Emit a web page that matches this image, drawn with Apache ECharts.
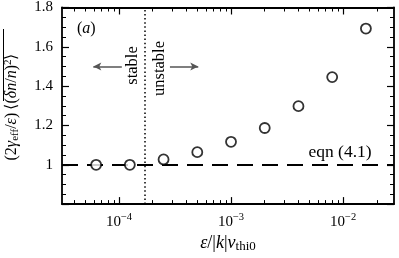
<!DOCTYPE html>
<html>
<head>
<meta charset="utf-8">
<script src="https://cdn.jsdelivr.net/npm/echarts@6/dist/echarts.min.js"></script>
<style>
html, body { margin: 0; padding: 0; background: #fff; }
#chart { width: 399px; height: 258px; }
</style>
</head>
<body>
<div id="chart"></div>
<script>
// eps / |k| v_thi0 and the normalised fluctuation level
var epsVals = [6.25e-5, 1.25e-4, 2.5e-4, 5e-4, 1e-3, 2e-3, 4e-3, 8e-3, 1.6e-2];
var ratioVals = [1.0, 1.0, 1.027, 1.064, 1.117, 1.187, 1.298, 1.446, 1.693];
var majorTicks = [1e-4, 1e-3, 1e-2];
var minorTicks = [4e-5, 5e-5, 6e-5, 7e-5, 8e-5, 9e-5,
    2e-4, 3e-4, 4e-4, 5e-4, 6e-4, 7e-4, 8e-4, 9e-4,
    2e-3, 3e-3, 4e-3, 5e-3, 6e-3, 7e-3, 8e-3, 9e-3, 2e-2];
var xMin = 3.1e-5, xMax = 2.85e-2;
var eqnLevel = 1.0;
var threshold = 1.7e-4;
var arrowY = 1.5;
var leftArrow = [1.06e-4, 5.9e-5];
var rightArrow = [2.85e-4, 5.1e-4];

var FONT = 'Liberation Serif';
var lg = function(v) { return Math.log10(v); };

var chart = echarts.init(document.getElementById('chart'));

var xBase = {
    type: 'value',
    gridIndex: 0,
    min: lg(xMin),
    max: lg(xMax),
    splitLine: { show: false }
};
var tickFmt = function(v) {
    var n = Math.round(v);
    return '{b|10}{s|' + (n < 0 ? '\u2212' : '') + Math.abs(n) + '}';
};

var xAxes = [
    Object.assign({}, xBase, {
        position: 'bottom',
        axisLine: { show: true, lineStyle: { color: '#000', width: 1.8 } },
        axisTick: { show: true, inside: true, length: 7, lineStyle: { color: '#000', width: 1.2 },
            customValues: majorTicks.map(lg) },
        axisLabel: { show: true, customValues: majorTicks.map(lg), formatter: tickFmt, margin: 8,
            rich: {
                b: { fontFamily: FONT, fontSize: 15, color: '#000' },
                s: { fontFamily: FONT, fontSize: 10.5, color: '#000', padding: [0, 0, 9, 0] }
            } },
        name: '{i|\u03b5}{n|/|}{i|k}{n||}{i|v}{sub|thi0}',
        nameLocation: 'middle',
        nameGap: 28,
        nameTextStyle: {
            rich: {
                i: { fontFamily: FONT, fontStyle: 'italic', fontSize: 18, color: '#000' },
                n: { fontFamily: FONT, fontSize: 18, color: '#000' },
                sub: { fontFamily: FONT, fontSize: 13, color: '#000', padding: [6, 0, 0, 0] }
            }
        }
    }),
    Object.assign({}, xBase, {
        position: 'top',
        axisLine: { show: true, lineStyle: { color: '#000', width: 1.8 } },
        axisTick: { show: true, inside: true, length: 7, lineStyle: { color: '#000', width: 1.2 },
            customValues: majorTicks.map(lg) },
        axisLabel: { show: false }
    }),
    Object.assign({}, xBase, {
        position: 'bottom',
        axisLine: { show: false },
        axisTick: { show: true, inside: true, length: 4, lineStyle: { color: '#000', width: 1 },
            customValues: minorTicks.map(lg) },
        axisLabel: { show: false }
    }),
    Object.assign({}, xBase, {
        position: 'top',
        axisLine: { show: false },
        axisTick: { show: true, inside: true, length: 4, lineStyle: { color: '#000', width: 1 },
            customValues: minorTicks.map(lg) },
        axisLabel: { show: false }
    })
];

var yBase = {
    type: 'value',
    min: 0.8,
    max: 1.8,
    interval: 0.2,
    splitLine: { show: false },
    axisLine: { show: true, lineStyle: { color: '#000', width: 1.8 } },
    axisTick: { show: true, inside: true, length: 7, lineStyle: { color: '#000', width: 1.2 } },
    minorTick: { show: true, splitNumber: 4, length: 4, lineStyle: { color: '#000', width: 1 } }
};

var option = {
    animation: false,
    backgroundColor: '#fff',
    grid: { left: 62, top: 7, right: 5, bottom: 49, containLabel: false },
    xAxis: xAxes,
    yAxis: [
        Object.assign({}, yBase, {
            position: 'left',
            axisLabel: {
                show: true, margin: 9, fontFamily: FONT, fontSize: 15, color: '#000',
                formatter: function(v) {
                    if (Math.abs(v - 0.8) < 1e-6) return '';
                    return Math.abs(v - 1) < 1e-6 ? '1' : v.toFixed(1);
                }
            }
        }),
        Object.assign({}, yBase, {
            position: 'right',
            axisLabel: { show: false }
        })
    ],
    series: [{
        type: 'scatter',
        xAxisIndex: 0,
        yAxisIndex: 0,
        symbol: 'circle',
        symbolSize: 10,
        itemStyle: { color: '#fff', borderColor: '#000', borderWidth: 1.8 },
        z: 5,
        data: epsVals.map(function(v, i) { return [lg(v), ratioVals[i]]; }),
        markLine: {
            silent: true,
            symbol: ['none', 'none'],
            label: { show: false },
            data: [
                [{ coord: [lg(xMin), eqnLevel], lineStyle: { color: '#000', width: 2, type: [16, 9] } },
                 { coord: [lg(xMax), eqnLevel] }],
                [{ coord: [lg(threshold), 0.8], lineStyle: { color: '#000', width: 1.5, type: [1.5, 2.6] } },
                 { coord: [lg(threshold), 1.8] }],
                [{ coord: [lg(leftArrow[0]), arrowY], symbol: 'none',
                   lineStyle: { color: '#555', width: 1.5, type: 'solid' } },
                 { coord: [lg(leftArrow[1]), arrowY], symbol: 'arrow', symbolSize: [6, 8] }],
                [{ coord: [lg(rightArrow[0]), arrowY], symbol: 'none',
                   lineStyle: { color: '#555', width: 1.5, type: 'solid' } },
                 { coord: [lg(rightArrow[1]), arrowY], symbol: 'arrow', symbolSize: [6, 8] }]
            ]
        }
    }]
};
chart.setOption(option);

// annotations placed in data space
var px = function(x, y) { return chart.convertToPixel({ xAxisIndex: 0, yAxisIndex: 0 }, [lg(x), y]); };
var pStable = px(threshold, arrowY);
var pEqn = px(9.4e-3, 1.062);
var pA = px(xMin, 1.8);

chart.setOption({
    graphic: [
        {
            type: 'text', x: pA[0] + 15, y: pA[1] + 21,
            style: { text: '{n|(}{i|a}{n|)}', align: 'left', verticalAlign: 'middle',
                rich: {
                    n: { fontFamily: FONT, fontSize: 16, fill: '#000' },
                    i: { fontFamily: FONT, fontSize: 16, fontStyle: 'italic', fill: '#000' }
                } }
        },
        {
            type: 'text', x: pStable[0] - 12, y: pStable[1] - 1, rotation: Math.PI / 2,
            style: { text: 'stable', fontFamily: FONT, fontSize: 16.5, fill: '#000',
                align: 'center', verticalAlign: 'middle' }
        },
        {
            type: 'text', x: pStable[0] + 15, y: pStable[1] + 2, rotation: Math.PI / 2,
            style: { text: 'unstable', fontFamily: FONT, fontSize: 16.5, fill: '#000',
                align: 'center', verticalAlign: 'middle' }
        },
        {
            type: 'text', x: pEqn[0], y: pEqn[1],
            style: { text: 'eqn (4.1)', fontFamily: FONT, fontSize: 17.5, fill: '#000',
                align: 'center', verticalAlign: 'middle' }
        },
        {
            type: 'text', x: 12, y: 107, rotation: Math.PI / 2,
            style: {
                text: '{n|(2}{i|\u03b3}{sub|eff}{n|/}{i|\u03b5}{n|)\u2009\u27e8(}{i|\u03b4n}{n|/}{i|n}{n|)}{sup|2}{n|\u27e9}',
                align: 'center', verticalAlign: 'middle',
                rich: {
                    n: { fontFamily: FONT, fontSize: 16, fill: '#000' },
                    i: { fontFamily: FONT, fontSize: 16, fontStyle: 'italic', fill: '#000' },
                    sub: { fontFamily: FONT, fontSize: 11, fill: '#000', padding: [6, 0, 0, 0] },
                    sup: { fontFamily: FONT, fontSize: 11, fill: '#000', padding: [0, 0, 8, 0] }
                }
            }
        },
        {
            type: 'line', shape: { x1: 3.5, y1: 29, x2: 3.5, y2: 101 },
            style: { stroke: '#000', lineWidth: 1 }
        }
    ]
});
</script>
</body>
</html>
